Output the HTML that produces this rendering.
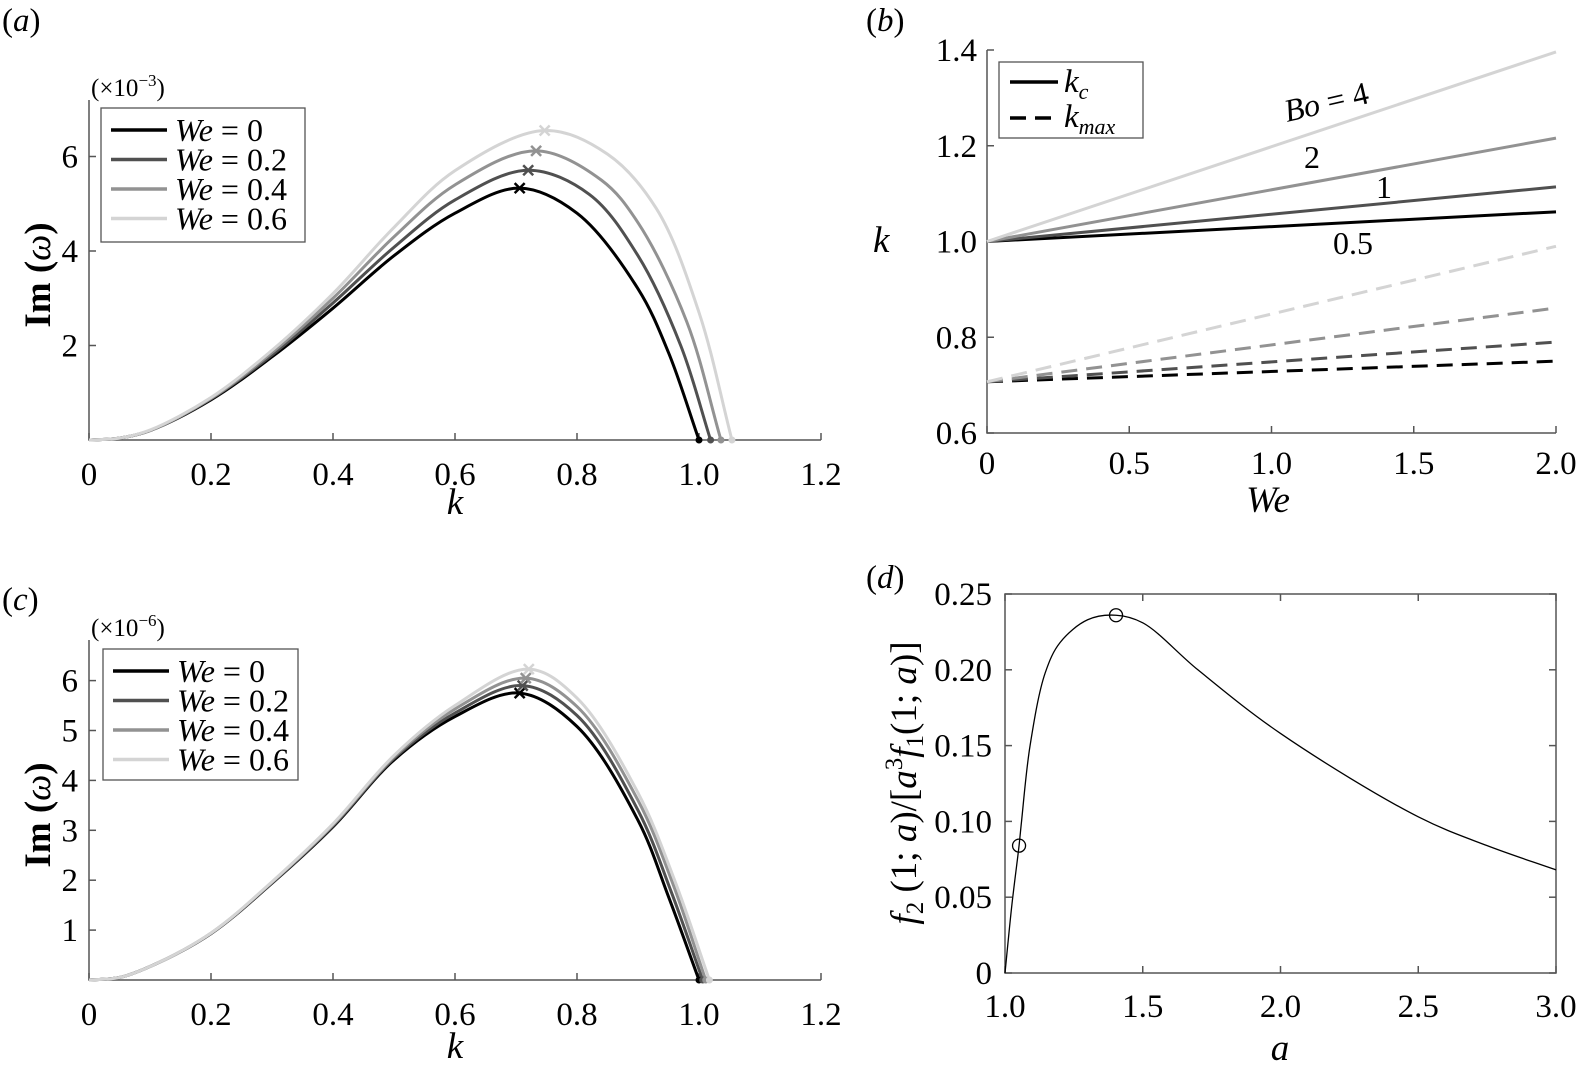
<!DOCTYPE html>
<html><head><meta charset="utf-8"><style>
body{margin:0;background:#fff;}
svg{display:block;font-family:"Liberation Serif",serif;}
</style></head><body>
<svg id="fig" width="1577" height="1077" viewBox="0 0 1577 1077" xmlns="http://www.w3.org/2000/svg"></svg>
<script>
// ---- data (a) ----
const aK0=[0,0.05,0.1,0.2,0.3,0.4,0.5,0.6,0.706,0.8,0.9,0.95,1.0];
const aY0=[0,0.04,0.2,0.85,1.76,2.79,3.9,4.8,5.33,4.8,3.2,1.85,0];
const aK1=[0,0.05,0.1,0.2,0.3,0.4,0.5,0.6,0.72,0.82,0.9,0.97,1.019];
const aY1=[0,0.04,0.2,0.87,1.8,2.9,4.08,5.08,5.71,5.2,3.9,2.0,0];
const aK2=[0,0.05,0.1,0.2,0.3,0.4,0.5,0.6,0.733,0.84,0.9,0.98,1.036];
const aY2=[0,0.04,0.2,0.88,1.85,3.0,4.3,5.4,6.12,5.5,4.6,2.5,0];
const aK3=[0,0.05,0.1,0.2,0.3,0.4,0.5,0.6,0.747,0.85,0.93,1.0,1.054];
const aY3=[0,0.04,0.21,0.9,1.9,3.1,4.5,5.7,6.55,6.05,4.9,2.7,0];
// ---- data (c) ----
const cK0=[0,0.05,0.1,0.2,0.3,0.4,0.5,0.6,0.706,0.8,0.9,0.95,1.0];
const cY0=[0,0.05,0.27,0.93,1.94,3.07,4.41,5.28,5.75,5.08,3.2,1.67,0];
const cK1=[0,0.05,0.1,0.2,0.3,0.4,0.5,0.6,0.711,0.8,0.9,0.955,1.006];
const cY1=[0,0.05,0.27,0.93,1.95,3.09,4.44,5.35,5.9,5.3,3.4,1.75,0];
const cK2=[0,0.05,0.1,0.2,0.3,0.4,0.5,0.6,0.716,0.8,0.9,0.958,1.011];
const cY2=[0,0.05,0.27,0.94,1.96,3.11,4.47,5.43,6.05,5.48,3.6,1.9,0];
const cK3=[0,0.05,0.1,0.2,0.3,0.4,0.5,0.6,0.721,0.8,0.9,0.96,1.017];
const cY3=[0,0.05,0.27,0.94,1.97,3.13,4.5,5.5,6.23,5.65,3.75,2.0,0];
// ---- data (b) ----
const bWe=[0,2];
const bBo=["0.5","1","2","4"];
const bKc05=[1.0,1.062], bKc1=[1.0,1.114], bKc2=[1.0,1.216], bKc4=[1.0,1.396];
const bKm05=[0.707,0.75], bKm1=[0.707,0.79], bKm2=[0.707,0.861], bKm4=[0.707,0.99];
// ---- data (d) ----
const dA=[1,1.025,1.051,1.06,1.091,1.146,1.2,1.3,1.403,1.5,1.7,2.0,2.5,2.75,3.0];
const dY=[0,0.045,0.084,0.10,0.15,0.198,0.218,0.233,0.236,0.231,0.20,0.158,0.103,0.084,0.068];
const dMarkA=[1.051,1.403], dMarkY=[0.084,0.236];
// ticks
const abXTicks=[0,0.2,0.4,0.6,0.8,1.0,1.2], abXLabels=["0","0.2","0.4","0.6","0.8","1.0","1.2"];
const aYTicks=[2,4,6], cYTicks=[1,2,3,4,5,6];
const bXTicks=[0,0.5,1.0,1.5,2.0], bXLabels=["0","0.5","1.0","1.5","2.0"];
const bYTicks=[0.6,0.8,1.0,1.2,1.4], bYLabels=["0.6","0.8","1.0","1.2","1.4"];
const dXTicks=[1,1.5,2,2.5,3], dXLabels=["1.0","1.5","2.0","2.5","3.0"];
const dYTicks=[0,0.05,0.1,0.15,0.2,0.25], dYLabels=["0","0.05","0.10","0.15","0.20","0.25"];
const weLabels=["0","0.2","0.4","0.6"];
const greys=["#000","#505050","#929292","#d4d4d4"];

const NS="http://www.w3.org/2000/svg";
const svg=document.getElementById('fig');
const FS=33;
function el(tag,attrs,parent,txt){const e=document.createElementNS(NS,tag);for(const k in attrs)e.setAttribute(k,attrs[k]);if(txt!==undefined)e.textContent=txt;(parent||svg).appendChild(e);return e;}
function lin(d0,d1,r0,r1){return v=>r0+(v-d0)/(d1-d0)*(r1-r0);}
function smooth(xs,ys,sx,sy){
  const p=xs.map((x,i)=>[sx(x),sy(ys[i])]);const n=p.length;
  let d=`M${p[0][0].toFixed(2)},${p[0][1].toFixed(2)}`;
  const dist=(a,b)=>Math.pow(Math.hypot(b[0]-a[0],b[1]-a[1]),0.5);
  for(let i=0;i<n-1;i++){
    const p1=p[i],p2=p[i+1];
    const p0=i>0?p[i-1]:[2*p1[0]-p2[0],2*p1[1]-p2[1]];
    const p3=i<n-2?p[i+2]:[2*p2[0]-p1[0],2*p2[1]-p1[1]];
    const d1=dist(p0,p1),d2=dist(p1,p2),d3=dist(p2,p3);
    let b1=[],b2=[];
    for(let k=0;k<2;k++){
      b1[k]=d1<1e-6?p1[k]+(p2[k]-p1[k])/3:(d1*d1*p2[k]-d2*d2*p0[k]+(2*d1*d1+3*d1*d2+d2*d2)*p1[k])/(3*d1*(d1+d2));
      b2[k]=d3<1e-6?p2[k]-(p2[k]-p1[k])/3:(d3*d3*p1[k]-d2*d2*p3[k]+(2*d3*d3+3*d3*d2+d2*d2)*p2[k])/(3*d3*(d3+d2));
    }
    d+=` C${b1[0].toFixed(2)},${b1[1].toFixed(2)} ${b2[0].toFixed(2)},${b2[1].toFixed(2)} ${p2[0].toFixed(2)},${p2[1].toFixed(2)}`;
  }
  return d;}
function text(x,y,s,attrs,name){const t=el('text',Object.assign({x:x,y:y},attrs||{}),svg,s);return t;}

function growthPanel(id,ys0,top,yTicks,ks,vals,expo){
  const sx=lin(0,1.2,89,821), sy=lin(0,1,ys0,ys0-(id==='a'?47.25:49.9));
  const g=el('g',{});
  const ax=el('path',{d:`M89,${top} V${ys0} H821`,stroke:'#555','stroke-width':1.5,fill:'none'},g);
  
  abXTicks.forEach((v,i)=>{el('line',{x1:sx(v),x2:sx(v),y1:ys0,y2:ys0-7,stroke:'#555','stroke-width':1.5},g);
    text(sx(v),ys0+45,abXLabels[i],{'font-size':FS,'text-anchor':'middle'},'x-tick-label');});
  yTicks.forEach(v=>{el('line',{x1:89,x2:96,y1:sy(v),y2:sy(v),stroke:'#555','stroke-width':1.5},g);
    text(78,sy(v)+11,String(v),{'font-size':FS,'text-anchor':'end'},'y-tick-label');});
  for(let s=0;s<4;s++){
    const p=el('path',{d:smooth(ks[s],vals[s],sx,sy),stroke:greys[s],'stroke-width':3,fill:'none'},g);
    
  }
  for(let s=0;s<4;s++){
    let mi=0;vals[s].forEach((v,i)=>{if(v>vals[s][mi])mi=i;});
    const px=sx(ks[s][mi]),py=sy(vals[s][mi]);
    const m=el('path',{d:`M${px-5},${py-5}L${px+5},${py+5}M${px-5},${py+5}L${px+5},${py-5}`,stroke:greys[s],'stroke-width':2.5},g);
    
    const c=el('circle',{cx:sx(ks[s][ks[s].length-1]),cy:ys0,r:3.5,fill:greys[s]},g);
    
  }
  const lg=el('g',{},g);
  const lx=id==='a'?101:103, ly=id==='a'?108:649, lw=id==='a'?204:195, lh=id==='a'?134:131;
  el('rect',{x:lx,y:ly,width:lw,height:lh,fill:'#fff',stroke:'#555','stroke-width':1.3},lg);
  for(let s=0;s<4;s++){const ry=ly+22+s*29.5;
    const e=el('g',{},lg);
    el('line',{x1:lx+10,x2:lx+66,y1:ry,y2:ry,stroke:greys[s],'stroke-width':3.5},e);
    const t=el('text',{x:lx+74,y:ry+11,'font-size':32},e);
    el('tspan',{'font-style':'italic'},t,'We');el('tspan',{},t,' = '+weLabels[s]);}
  const ex=el('text',{x:91,y:top-4,'font-size':25},svg);
  el('tspan',{},ex,'(×10');el('tspan',{dy:-10,'font-size':17},ex,'−'+expo);el('tspan',{dy:10},ex,')');
  const yl=el('text',{x:0,y:0,'font-size':37,'font-weight':'bold',transform:`translate(50,${(top+ys0)/2+5}) rotate(-90)`,'text-anchor':'middle'},svg);
  
  el('tspan',{},yl,'Im (');el('tspan',{'font-style':'italic','font-weight':'normal'},yl,'ω');el('tspan',{},yl,')');
  text(455,ys0+(id==='a'?74:78),'k',{'font-size':37,'font-style':'italic','text-anchor':'middle'},'x-axis-title');
}
growthPanel('a',440,100,aYTicks,[aK0,aK1,aK2,aK3],[aY0,aY1,aY2,aY3],'3');
growthPanel('c',980,640,cYTicks,[cK0,cK1,cK2,cK3],[cY0,cY1,cY2,cY3],'6');
const pl=[['(a)',2,31],['(b)',866,31],['(c)',2,610],['(d)',866,588]];
pl.forEach(p=>{const t=el('text',{x:p[1],y:p[2],'font-size':33},svg);
  el('tspan',{},t,'(');el('tspan',{'font-style':'italic'},t,p[0][1]);el('tspan',{},t,')');});

// ---- panel b ----
(function(){
  const sx=lin(0,2,987,1556), sy=lin(0.6,1.4,433,50);
  const g=el('g',{});
  el('path',{d:'M987,50 V433 H1556',stroke:'#555','stroke-width':1.5,fill:'none'},g);
  bXTicks.forEach((v,i)=>{el('line',{x1:sx(v),x2:sx(v),y1:433,y2:426,stroke:'#555','stroke-width':1.5},g);
    text(sx(v),474,bXLabels[i],{'font-size':FS,'text-anchor':'middle'},'x-tick-label');});
  bYTicks.forEach((v,i)=>{el('line',{x1:987,x2:994,y1:sy(v),y2:sy(v),stroke:'#555','stroke-width':1.5},g);
    text(977,sy(v)+11,bYLabels[i],{'font-size':FS,'text-anchor':'end'},'y-tick-label');});
  const kc=[bKc05,bKc1,bKc2,bKc4], km=[bKm05,bKm1,bKm2,bKm4];
  for(let s=0;s<4;s++){
    const l=el('line',{x1:sx(bWe[0]),y1:sy(kc[s][0]),x2:sx(bWe[1]),y2:sy(kc[s][1]),stroke:greys[s],'stroke-width':3},g);
    
    const m=el('line',{x1:sx(bWe[0]),y1:sy(km[s][0]),x2:sx(bWe[1]),y2:sy(km[s][1]),stroke:greys[s],'stroke-width':3,'stroke-dasharray':'16,9'},g);
    
  }
  const lg=el('g',{},g);
  el('rect',{x:999,y:62,width:144,height:76,fill:'#fff',stroke:'#555','stroke-width':1.3},lg);
  el('line',{x1:1010,x2:1058,y1:82,y2:82,stroke:'#000','stroke-width':3.5},lg);
  el('line',{x1:1010,x2:1058,y1:118,y2:118,stroke:'#000','stroke-width':3.5,'stroke-dasharray':'16,9'},lg);
  let t=el('text',{x:1064,y:92,'font-size':33,'font-style':'italic'},lg);el('tspan',{},t,'k');el('tspan',{dy:7,'font-size':22},t,'c');
  t=el('text',{x:1064,y:127,'font-size':33,'font-style':'italic'},lg);el('tspan',{},t,'k');el('tspan',{dy:7,'font-size':22},t,'max');
  const bo=el('text',{x:0,y:0,'font-size':32,transform:'translate(1287,122) rotate(-13)'},g);
  
  el('tspan',{'font-style':'italic'},bo,'Bo');el('tspan',{},bo,' = 4');
  text(1304,168,'2',{'font-size':32},'bo-label');
  text(1376,198,'1',{'font-size':32},'bo-label');
  text(1333,254,'0.5',{'font-size':32},'bo-label');
  text(873,252,'k',{'font-size':37,'font-style':'italic'},'y-axis-title');
  text(1268,512,'We',{'font-size':37,'font-style':'italic','text-anchor':'middle'},'x-axis-title');
})();

// ---- panel d ----
(function(){
  const sx=lin(1,3,1005,1556), sy=lin(0,0.25,973,594);
  const g=el('g',{});
  el('rect',{x:1005,y:594,width:551,height:379,fill:'none',stroke:'#555','stroke-width':1.5},g);
  dXTicks.forEach((v,i)=>{el('line',{x1:sx(v),x2:sx(v),y1:973,y2:966,stroke:'#555','stroke-width':1.5},g);
    el('line',{x1:sx(v),x2:sx(v),y1:594,y2:601,stroke:'#555','stroke-width':1.5},g);
    text(sx(v),1017,dXLabels[i],{'font-size':FS,'text-anchor':'middle'},'x-tick-label');});
  dYTicks.forEach((v,i)=>{el('line',{x1:1005,x2:1012,y1:sy(v),y2:sy(v),stroke:'#555','stroke-width':1.5},g);
    el('line',{x1:1556,x2:1549,y1:sy(v),y2:sy(v),stroke:'#555','stroke-width':1.5},g);
    text(992,sy(v)+11,dYLabels[i],{'font-size':FS,'text-anchor':'end'},'y-tick-label');});
  const p=el('path',{d:smooth(dA,dY,sx,sy),stroke:'#000','stroke-width':1.3,fill:'none'},g);
  
  dMarkA.forEach((a,i)=>{const c=el('circle',{cx:sx(a),cy:sy(dMarkY[i]),r:6.5,fill:'none',stroke:'#000','stroke-width':1.3},g);
    });
  const yl=el('text',{x:0,y:0,'font-size':37,transform:'translate(916,783) rotate(-90)','text-anchor':'middle'},svg);
  
  el('tspan',{'font-style':'italic'},yl,'f');el('tspan',{dy:7,'font-size':25},yl,'2');
  el('tspan',{dy:-7},yl,' (1; ');el('tspan',{'font-style':'italic'},yl,'a');el('tspan',{},yl,')/[');
  el('tspan',{'font-style':'italic'},yl,'a');el('tspan',{dy:-14,'font-size':25},yl,'3');
  el('tspan',{dy:14,'font-style':'italic'},yl,'f');el('tspan',{dy:7,'font-size':25},yl,'1');
  el('tspan',{dy:-7},yl,'(1; ');el('tspan',{'font-style':'italic'},yl,'a');el('tspan',{},yl,')]');
  text(1280,1060,'a',{'font-size':37,'font-style':'italic','text-anchor':'middle'},'x-axis-title');
})();
</script>
</body></html>
